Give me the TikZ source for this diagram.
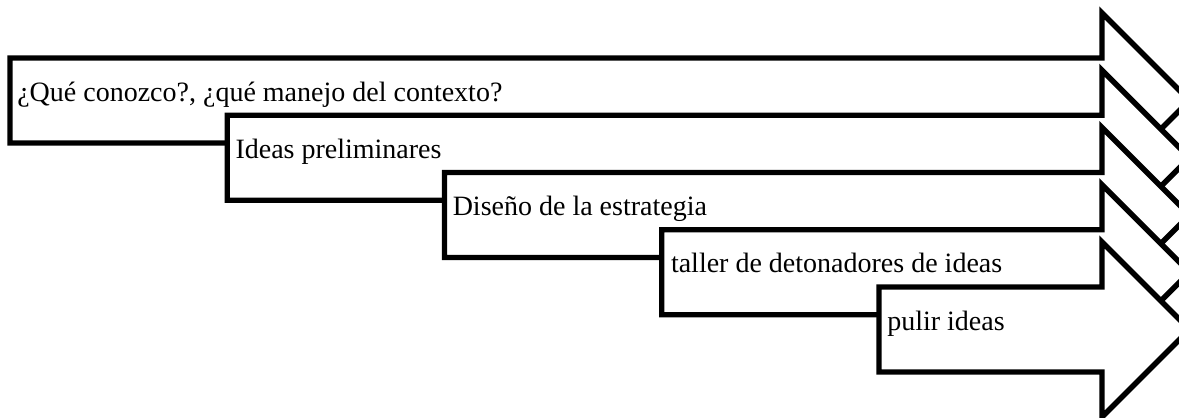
\documentclass[tikz,border=0pt]{standalone}
\usepackage{fontspec}
\setmainfont{Liberation Serif}
\usetikzlibrary{positioning}

\begin{document}
\begin{tikzpicture}[
        x=0.75pt, y=-0.75pt,
        stage/.style={draw=black, fill=white, line width=4.1pt, line join=miter},
        stagetext/.style={inner sep=0pt, anchor=base west,
                          font=\fontsize{21}{25}\selectfont}
    ]
    \useasboundingbox (0,0) rectangle (1179,418);
    \clip (0,0) rectangle (1179,418);

    % five overlapping block arrows, each one drawn over the previous
    \draw[stage] (10,58) -- (1102,58) -- (1102,13) -- (1189.5,100.5)
        -- (1102,188) -- (1102,143) -- (10,143) -- cycle;
    \node[stagetext] (conozco) at (17,101) {¿Qué conozco?, ¿qué manejo del contexto?};

    \draw[stage] (227.25,115.25) -- (1102,115.25) -- (1102,70.25) -- (1189.5,157.75)
        -- (1102,245.25) -- (1102,200.25) -- (227.25,200.25) -- cycle;
    \node[stagetext] (ideas) at (235.25,158.25) {Ideas preliminares};

    \draw[stage] (444.5,172.5) -- (1102,172.5) -- (1102,127.5) -- (1189.5,215)
        -- (1102,302.5) -- (1102,257.5) -- (444.5,257.5) -- cycle;
    \node[stagetext] (diseno) at (452.5,215.5) {Diseño de la estrategia};

    \draw[stage] (661.75,229.75) -- (1102,229.75) -- (1102,184.75) -- (1189.5,272.25)
        -- (1102,359.75) -- (1102,314.75) -- (661.75,314.75) -- cycle;
    \node[stagetext] (taller) at (670.75,272.75) {taller de detonadores de ideas};

    \draw[stage] (879,287) -- (1102,287) -- (1102,242) -- (1189.5,329.5)
        -- (1102,417) -- (1102,372) -- (879,372) -- cycle;
    \node[stagetext] (pulir) at (887,330) {pulir ideas};
\end{tikzpicture}
\end{document}
